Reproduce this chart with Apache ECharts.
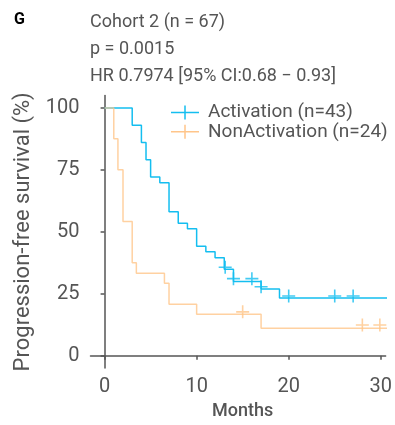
<!DOCTYPE html>
<html>
<head>
<meta charset="utf-8">
<script src="https://cdn.jsdelivr.net/npm/echarts@6/dist/echarts.min.js"></script>
<style>
  html, body { margin: 0; padding: 0; background: #fff; }
  #chart { width: 395px; height: 425px; }
</style>
</head>
<body>
<div id="chart"></div>
<script>
// Kaplan-Meier steps (months, % surviving)
var activationTime = [0, 3, 4, 4.5, 5, 6, 7, 8, 9, 10, 11, 12, 13, 14, 17, 19, 31];
var activationSurv = [100, 93.0, 86.0, 79.1, 72.1, 69.8, 58.1, 53.5, 51.2, 44.2, 41.9, 39.5, 34.9, 29.9, 26.9, 23.3, 23.3];
var nonActTime = [0, 1, 1.45, 2, 3, 3.45, 6.5, 7, 10, 17, 31];
var nonActSurv = [100, 87.5, 75, 54.2, 37.5, 33.3, 29.2, 20.8, 16.7, 11.1, 11.1];

// censored marks
var actCensorTime = [13.1, 14.0, 16.0, 17.0, 20.0, 25.0, 27.0];
var actCensorSurv = [35.7, 31.1, 31.1, 27.8, 24.1, 24.1, 24.1];
var nonCensorTime = [15.0, 28.0, 29.9];
var nonCensorSurv = [17.7, 12.4, 12.4];

var xTicks = [0, 10, 20, 30];
var yTicks = [0, 25, 50, 75, 100];

var legendNames = ['Activation (n=43)', 'NonActivation (n=24)'];
var blue = '#14BEF0';
var orange = '#FFC58A';
var grey = '#555555';

function pairs(xs, ys) {
  return xs.map(function (x, i) { return [x, ys[i]]; });
}

var crossPath = 'path://M0,5.7H13V7.3H0Z M5.7,0H7.3V13H5.7Z';
var legendIcon = 'path://M0,6.25H28V7.75H0Z M13.25,0H14.75V14H13.25Z';

var chart = echarts.init(document.getElementById('chart'));
chart.setOption({
  animation: false,
  textStyle: { fontFamily: 'Roboto' },
  title: [
    {
      text: 'G',
      left: 14, top: 12, padding: 0,
      textStyle: { fontSize: 16, fontWeight: 'bold', color: '#000', fontFamily: 'Roboto', lineHeight: 16 }
    },
    {
      text: 'Cohort 2 (n = 67)\np = 0.0015\nHR 0.7974 [95% CI:0.68 \u2212 0.93]',
      left: 90, top: 8.5, padding: 0,
      textStyle: { fontSize: 18, fontWeight: 'normal', color: grey, fontFamily: 'Roboto', lineHeight: 27 }
    }
  ],
  legend: {
    orient: 'vertical',
    left: 171, top: 103,
    itemWidth: 28, itemHeight: 14, itemGap: 0.3,
    padding: 0,
    textStyle: { fontSize: 19, lineHeight: 18, color: grey, fontFamily: 'Roboto', padding: [0, 0, 0, 4] },
    data: [
      { name: legendNames[0], icon: legendIcon },
      { name: legendNames[1], icon: legendIcon }
    ]
  },
  grid: { left: 90.5, top: 95.5, width: 304.5, height: 277 },
  xAxis: {
    type: 'value',
    min: -1.53, max: 30.53,
    name: 'Months',
    nameLocation: 'middle',
    nameGap: 30,
    nameTextStyle: { fontSize: 18, fontWeight: 500, color: grey, fontFamily: 'Roboto', padding: [0, 0, 0, 9] },
    axisLine: { lineStyle: { color: grey, width: 1.5 } },
    axisTick: { length: 4, customValues: xTicks, lineStyle: { color: grey, width: 1.5 } },
    axisLabel: { customValues: xTicks, fontSize: 20, color: grey, margin: 9 },
    splitLine: { show: false }
  },
  yAxis: {
    type: 'value',
    min: -5, max: 105,
    name: 'Progression-free survival (%)',
    nameLocation: 'middle',
    nameGap: 56,
    nameTextStyle: { fontSize: 22, color: grey, fontFamily: 'Roboto' },
    axisLine: { show: true, lineStyle: { color: grey, width: 1.5 } },
    axisTick: { show: true, length: 4, customValues: yTicks, lineStyle: { color: grey, width: 1.5 } },
    axisLabel: { customValues: yTicks, fontSize: 20, color: grey, margin: 11 },
    splitLine: { show: false }
  },
  series: [
    {
      name: legendNames[0],
      type: 'line',
      step: 'end',
      showSymbol: false,
      color: blue,
      lineStyle: { color: blue, width: 1.5 },
      data: pairs(activationTime, activationSurv)
    },
    {
      name: legendNames[1],
      type: 'line',
      step: 'end',
      showSymbol: false,
      color: orange,
      lineStyle: { color: orange, width: 1.5, opacity: 0.8 },
      data: pairs(nonActTime, nonActSurv)
    },
    {
      name: 'Activation censored',
      type: 'scatter',
      symbol: crossPath,
      symbolSize: 13,
      itemStyle: { color: blue },
      data: pairs(actCensorTime, actCensorSurv)
    },
    {
      name: 'NonActivation censored',
      type: 'scatter',
      symbol: crossPath,
      symbolSize: 13,
      itemStyle: { color: orange },
      data: pairs(nonCensorTime, nonCensorSurv)
    }
  ]
});
</script>
</body>
</html>
